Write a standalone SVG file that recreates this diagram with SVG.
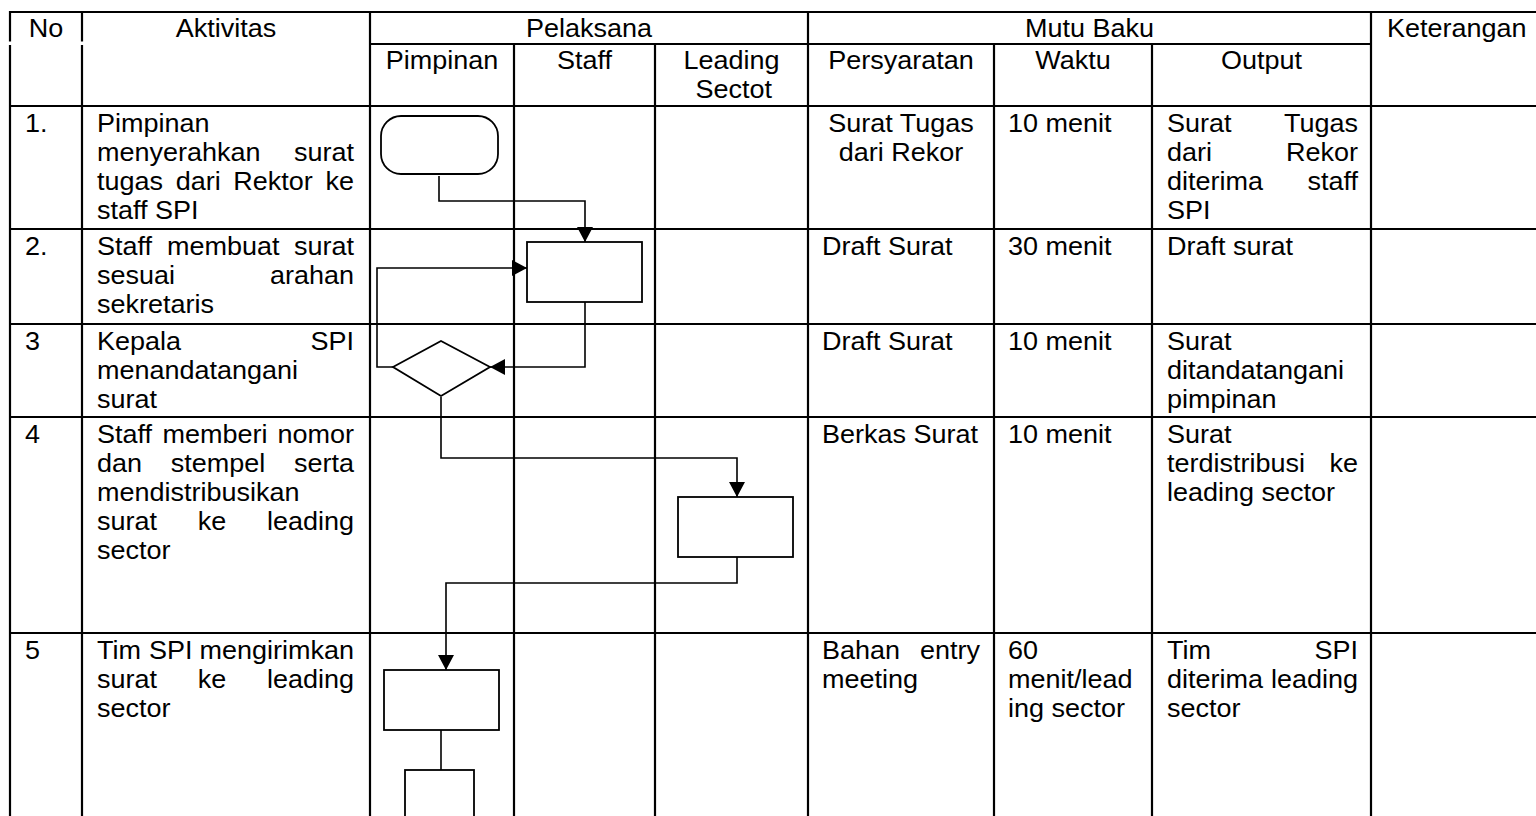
<svg xmlns="http://www.w3.org/2000/svg" width="1536" height="816" viewBox="0 0 1536 816">
<style>
.g line{stroke:#000;stroke-width:2.2}
.t text{font-family:"Liberation Sans",Arial,sans-serif;font-size:25px;fill:#000}
.c{text-anchor:middle}
.e{text-anchor:end}
.s{fill:#fff;stroke:#000;stroke-width:1.8}
.k{fill:none;stroke:#000;stroke-width:1.6}
</style>
<defs>
<marker id="arr" viewBox="0 0 15 16" refX="15" refY="8" markerWidth="15" markerHeight="16" markerUnits="userSpaceOnUse" orient="auto">
<path d="M0,0 L15,8 L0,16 z" fill="#000"/>
</marker>
</defs>
<rect width="1536" height="816" fill="#fff"/>
<g id="table" class="g">
<line x1="10" y1="12" x2="1536" y2="12"/>
<line x1="370" y1="44" x2="1371" y2="44"/>
<line x1="10" y1="106" x2="1536" y2="106"/>
<line x1="10" y1="229" x2="1536" y2="229"/>
<line x1="10" y1="324" x2="1536" y2="324"/>
<line x1="10" y1="417" x2="1536" y2="417"/>
<line x1="10" y1="633" x2="1536" y2="633"/>
<line x1="10" y1="11" x2="10" y2="41.5"/>
<line x1="10" y1="45" x2="10" y2="816"/>
<line x1="82" y1="11" x2="82" y2="41.5"/>
<line x1="82" y1="45" x2="82" y2="816"/>
<line x1="370" y1="11" x2="370" y2="816"/>
<line x1="514" y1="44" x2="514" y2="816"/>
<line x1="655" y1="44" x2="655" y2="816"/>
<line x1="808" y1="11" x2="808" y2="816"/>
<line x1="994" y1="44" x2="994" y2="816"/>
<line x1="1152" y1="44" x2="1152" y2="816"/>
<line x1="1371" y1="11" x2="1371" y2="816"/>
</g>
<g id="texts" class="t" transform="scale(1.08 1)">
<text x="42.59" y="37" class="c">No</text>
<text x="209.26" y="37" class="c">Aktivitas</text>
<text x="545.37" y="37" class="c">Pelaksana</text>
<text x="1008.8" y="37" class="c">Mutu Baku</text>
<text x="1284.26" y="37">Keterangan</text>
<text x="409.26" y="69" class="c">Pimpinan</text>
<text x="541.2" y="69" class="c">Staff</text>
<text x="677.3" y="69" class="c">Leading</text>
<text x="679.5" y="98" class="c">Sectot</text>
<text x="834.26" y="69" class="c">Persyaratan</text>
<text x="993.5" y="69" class="c">Waktu</text>
<text x="1168.06" y="69" class="c">Output</text>

<text x="23.15" y="132">1.</text>
<text x="89.81" y="132">Pimpinan</text>
<text x="89.81" y="161">menyerahkan</text>
<text x="327.78" y="161" class="e">surat</text>
<text x="89.81" y="190">tugas</text>
<text x="162.68" y="190">dari</text>
<text x="216.07" y="190">Rektor</text>
<text x="327.78" y="190" class="e">ke</text>
<text x="89.81" y="219">staff SPI</text>
<text x="834.26" y="132" class="c">Surat Tugas</text>
<text x="834.26" y="161" class="c">dari Rekor</text>
<text x="933.33" y="132">10 menit</text>
<text x="1080.56" y="132">Surat</text>
<text x="1257.41" y="132" class="e">Tugas</text>
<text x="1080.56" y="161">dari</text>
<text x="1257.41" y="161" class="e">Rekor</text>
<text x="1080.56" y="190">diterima</text>
<text x="1257.41" y="190" class="e">staff</text>
<text x="1080.56" y="219">SPI</text>

<text x="23.15" y="255">2.</text>
<text x="89.81" y="255">Staff</text>
<text x="154.63" y="255">membuat</text>
<text x="327.78" y="255" class="e">surat</text>
<text x="89.81" y="284">sesuai</text>
<text x="327.78" y="284" class="e">arahan</text>
<text x="89.81" y="313">sekretaris</text>
<text x="761.11" y="255">Draft Surat</text>
<text x="933.33" y="255">30 menit</text>
<text x="1080.56" y="255">Draft surat</text>

<text x="23.15" y="350">3</text>
<text x="89.81" y="350">Kepala</text>
<text x="327.78" y="350" class="e">SPI</text>
<text x="89.81" y="379">menandatangani</text>
<text x="89.81" y="408">surat</text>
<text x="761.11" y="350">Draft Surat</text>
<text x="933.33" y="350">10 menit</text>
<text x="1080.56" y="350">Surat</text>
<text x="1080.56" y="379">ditandatangani</text>
<text x="1080.56" y="408">pimpinan</text>

<text x="23.15" y="443">4</text>
<text x="89.81" y="443">Staff</text>
<text x="150.48" y="443">memberi</text>
<text x="327.78" y="443" class="e">nomor</text>
<text x="89.81" y="472">dan</text>
<text x="158.11" y="472">stempel</text>
<text x="327.78" y="472" class="e">serta</text>
<text x="89.81" y="501">mendistribusikan</text>
<text x="89.81" y="530">surat</text>
<text x="183.1" y="530">ke</text>
<text x="327.78" y="530" class="e">leading</text>
<text x="89.81" y="559">sector</text>
<text x="761.11" y="443">Berkas Surat</text>
<text x="933.33" y="443">10 menit</text>
<text x="1080.56" y="443">Surat</text>
<text x="1080.56" y="472">terdistribusi</text>
<text x="1257.41" y="472" class="e">ke</text>
<text x="1080.56" y="501">leading sector</text>

<text x="23.15" y="659">5</text>
<text x="89.81" y="659">Tim</text>
<text x="137.95" y="659">SPI</text>
<text x="327.78" y="659" class="e">mengirimkan</text>
<text x="89.81" y="688">surat</text>
<text x="183.1" y="688">ke</text>
<text x="327.78" y="688" class="e">leading</text>
<text x="89.81" y="717">sector</text>
<text x="761.11" y="659">Bahan</text>
<text x="907.41" y="659" class="e">entry</text>
<text x="761.11" y="688">meeting</text>
<text x="933.33" y="659">60</text>
<text x="933.33" y="688">menit/lead</text>
<text x="933.33" y="717">ing sector</text>
<text x="1080.56" y="659">Tim</text>
<text x="1257.41" y="659" class="e">SPI</text>
<text x="1080.56" y="688">diterima</text>
<text x="1257.41" y="688" class="e">leading</text>
<text x="1080.56" y="717">sector</text>
</g>
<g id="connectors" class="k">
<path d="M439,176 V201 H585 V242" marker-end="url(#arr)"/>
<path d="M585,302 V367 H490" marker-end="url(#arr)"/>
<path d="M393,367 H377 V268 H527" marker-end="url(#arr)"/>
<path d="M441,397 V458 H737 V497" marker-end="url(#arr)"/>
<path d="M737,557 V583 H446 V670" marker-end="url(#arr)"/>
<path d="M441,730 V770"/>
</g>
<g id="node-start"><rect class="s" x="381" y="116" width="117" height="58" rx="20" ry="20"/></g>
<g id="node-draft"><rect class="s" x="527" y="242" width="115" height="60"/></g>
<g id="node-sign"><polygon class="s" points="393,367 441,341 490,367 441,396"/></g>
<g id="node-distribute"><rect class="s" x="678" y="497" width="115" height="60"/></g>
<g id="node-send"><rect class="s" x="384" y="670" width="115" height="60"/></g>
<g id="node-end"><rect class="s" x="405" y="770" width="69" height="60"/></g>
</svg>
